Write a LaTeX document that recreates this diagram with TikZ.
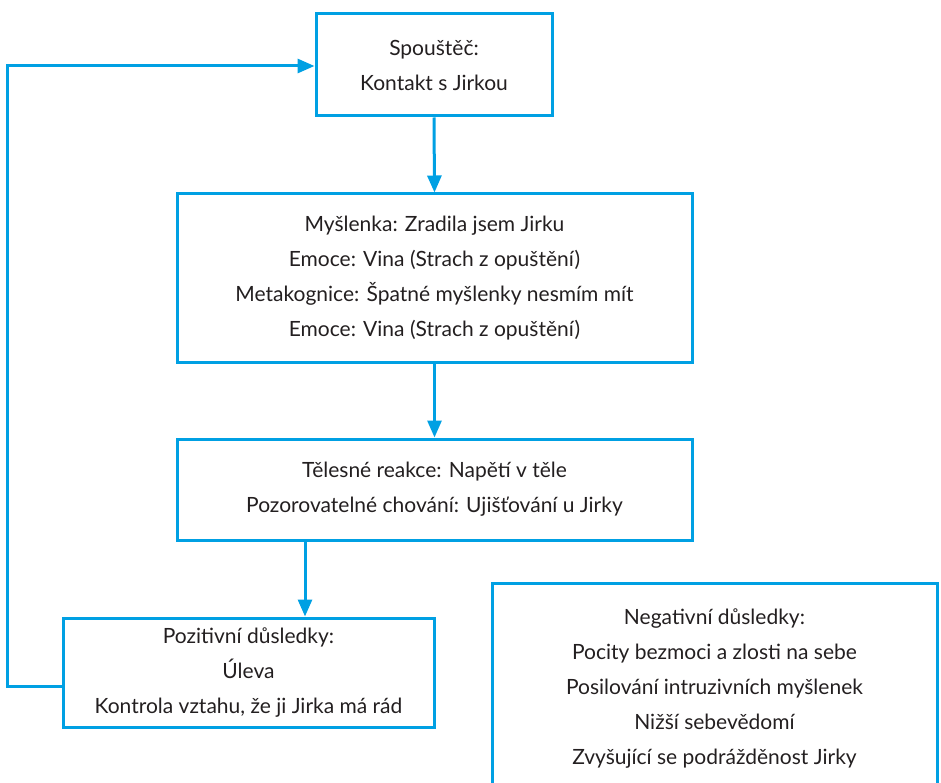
\documentclass[tikz,border=0pt]{standalone}
\usepackage{fontspec}
\setmainfont{Lato}
\usepackage{tikz}
\usetikzlibrary{arrows.meta,positioning,calc}
\definecolor{linkblue}{RGB}{0,160,227}
\definecolor{textgray}{RGB}{35,31,32}

\begin{document}
\begin{tikzpicture}[
    x=1pt, y=-1pt,
    % --- styly uzlů ---
    box/.style={
        rectangle,
        draw=linkblue,
        line width=3pt,
        align=center,
        text=textgray,
        inner sep=0pt,
        font=\fontsize{21}{35}\selectfont
    },
    % šipky
    arr/.style={draw=linkblue, line width=3pt,
        -{Triangle[length=17pt,width=14pt]}}
]
\useasboundingbox (0,0) rectangle (941,783);

% --- krabice ---
\node[box, minimum width=236pt, minimum height=102pt] (trigger) at (434,65)
    {Spouštěč:\\Kontakt s Jirkou};
\node[box, minimum width=515pt, minimum height=168pt] (thought) at (434.5,278)
    {Myšlenka: Zradila jsem Jirku\\
     Emoce: Vina (Strach z opuštění)\\
     Metakognice: Špatné myšlenky nesmím mít\\
     Emoce: Vina (Strach z opuštění)};
\node[box, minimum width=515pt, minimum height=101pt] (body) at (434.5,489.5)
    {Tělesné reakce: Napětí v těle\\
     Pozorovatelné chování: Ujišťování u Jirky};
\node[box, minimum width=371pt, minimum height=109pt] (positive) at (248.5,672.5)
    {Pozitivní důsledky:\\Úleva\\Kontrola vztahu, že ji Jirka má rád};
\node[box, minimum width=445pt, minimum height=212pt] (negative) at (714.5,689)
    {Negativní důsledky:\\
     Pocity bezmoci a zlosti na sebe\\
     Posilování intruzivních myšlenek\\
     Nižší sebevědomí\\
     Zvyšující se podrážděnost Jirky};

% --- spojnice ---
\draw[arr] (trigger.south) -- (thought.north);
\draw[arr] (thought.south) -- (body.north);
\draw[arr] ([xshift=56.5pt]positive.north |- body.south) -- ([xshift=56.5pt]positive.north);
% zpětná smyčka
\draw[arr] ([yshift=-13.5pt]positive.west) -- ++(-54,0) |- ([yshift=-1pt]trigger.west);

\end{tikzpicture}
\end{document}
